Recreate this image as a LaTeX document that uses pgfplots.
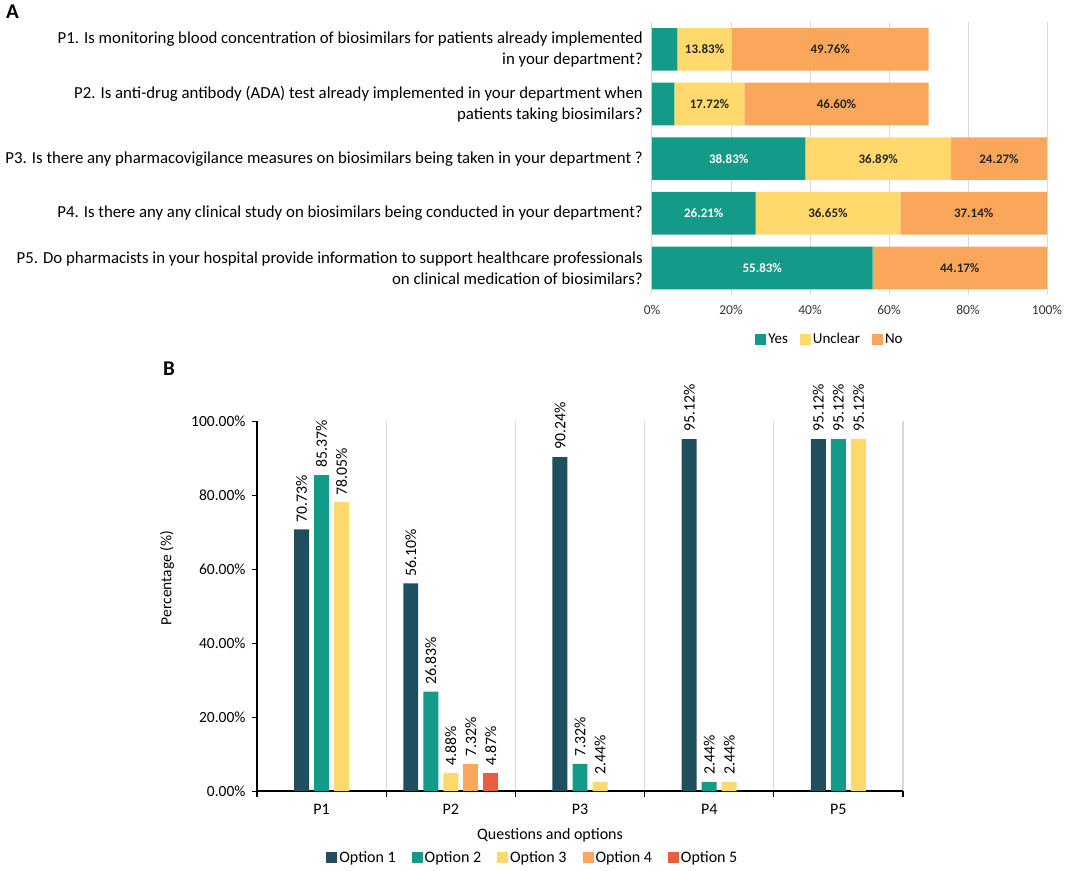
\documentclass[border=0pt]{standalone}
\usepackage{fontspec}
\setmainfont{Carlito}
\usepackage{pgfplots}
\pgfplotsset{compat=1.18}
\pgfplotsset{/pgf/number format/assume math mode=true}

\definecolor{cYes}{HTML}{149A89}
\definecolor{cUnc}{HTML}{FFD96B}
\definecolor{cNo}{HTML}{FBA75B}
\definecolor{cOpt1}{HTML}{1F4E5E}
\definecolor{cOpt5}{HTML}{EB5B3D}
\definecolor{cGrid}{HTML}{D9D9D9}

\pgfplotsset{
  panelA/.style={
    at={(652bp,-295.3bp)}, anchor=south west,
    width=395bp, height=273.3bp, scale only axis,
    xmin=0, xmax=100, ymin=0.5, ymax=5.5,
  },
}

\begin{document}
\begin{tikzpicture}
\useasboundingbox (0bp,0bp) rectangle (1065bp,-871bp);

\node[anchor=north west, inner sep=0pt, font=\fontsize{21bp}{24bp}\selectfont\bfseries] at (6bp,-5bp) {A};
\node[anchor=north west, inner sep=0pt, font=\fontsize{21bp}{24bp}\selectfont\bfseries] at (163bp,-362bp) {B};

% ---- panel A: stacked horizontal bars
\begin{axis}[
  panelA,
  xbar stacked, bar width=0.78,
  xtick={0,20,...,100},
  xticklabel={\pgfmathprintnumber{\tick}\%},
  xticklabel style={font=\fontsize{13.5bp}{16bp}\selectfont, text=black!80, yshift=-6bp},
  ytick={1,...,5},
  yticklabels={
    {P5. Do pharmacists in your hospital provide information to support healthcare professionals\\on clinical medication of biosimilars?},
    {P4. Is there any any clinical study on biosimilars being conducted in your department?},
    {P3. Is there any pharmacovigilance measures on biosimilars being taken in your department ?},
    {P2. Is anti-drug antibody (ADA) test already implemented in your department when\\patients taking biosimilars?},
    {P1. Is monitoring blood concentration of biosimilars for patients already implemented\\in your department?}},
  yticklabel style={font=\fontsize{16.8bp}{21bp}\selectfont, align=right, anchor=east, inner xsep=0pt, xshift=-9bp},
  major tick length=0pt,
  axis line style={draw=none},
  xmajorgrids, grid style={draw=cGrid, line width=1bp},
  legend columns=3,
  legend style={at={(0.4506,-0.160)}, anchor=center, draw=none,
    font=\fontsize{15bp}{18bp}\selectfont,
    /tikz/every even column/.append style={column sep=10bp}},
  legend image code/.code={\fill[#1] (0bp,-5.5bp) rectangle (11bp,5.5bp);},
]
\addplot[fill=cYes, draw=none] coordinates {
  (6.41,5) (5.68,4) (38.83,3) (26.21,2) (55.83,1)};
\addlegendentry{Yes}
\addplot[fill=cUnc, draw=none] coordinates {
  (13.83,5) (17.72,4) (36.89,3) (36.65,2) (0,1)};
\addlegendentry{Unclear}
\addplot[fill=cNo, draw=none] coordinates {
  (49.76,5) (46.60,4) (24.27,3) (37.14,2) (44.17,1)};
\addlegendentry{No}
\end{axis}

% segment labels of panel A, at the middle of each segment
\begin{axis}[
  panelA, hide axis,
  point meta=explicit symbolic,
  nodes near coords,
  every node near coord/.append style={anchor=center, inner sep=0pt,
    font=\fontsize{13bp}{15bp}\selectfont\bfseries},
]
\addplot[only marks, mark=none, every node near coord/.append style={text=white}] coordinates {
  (19.415,3) [38.83\%] (13.105,2) [26.21\%] (27.915,1) [55.83\%]};
\addplot[only marks, mark=none, every node near coord/.append style={text=black!85}] coordinates {
  (13.325,5) [13.83\%] (14.54,4) [17.72\%] (57.275,3) [36.89\%] (44.535,2) [36.65\%]
  (45.12,5) [49.76\%] (46.70,4) [46.60\%] (87.855,3) [24.27\%] (81.43,2) [37.14\%] (77.915,1) [44.17\%]};
\end{axis}

% ---- panel B: grouped bars, each group centred on its question
\begin{axis}[
  at={(257bp,-791bp)}, anchor=south west,
  width=646bp, height=370bp, scale only axis,
  ybar, bar width=0.116, bar shift=0pt,
  xmin=-0.5, xmax=4.5, ymin=0, ymax=100,
  clip=false,
  axis x line*=bottom, axis y line*=left,
  axis line style={line width=1.2bp, black},
  xtick={0,...,4},
  xticklabels={P1,P2,P3,P4,P5},
  minor xtick={-0.5,0.5,1.5,2.5,3.5,4.5},
  xminorgrids, minor grid style={draw=cGrid, line width=1.3bp},
  major x tick style={draw=none},
  minor x tick style={line width=1.2bp, black},
  minor tick length=6bp,
  tick align=outside,
  xticklabel style={font=\fontsize{16bp}{19bp}\selectfont, yshift=-5bp},
  ytick={0,20,...,100},
  major y tick style={line width=1bp, black},
  major tick length=5bp,
  yticklabel={\pgfmathprintnumber[fixed,fixed zerofill,precision=2]{\tick}\%},
  yticklabel style={font=\fontsize{15.5bp}{18bp}\selectfont, xshift=-3bp},
  xlabel={Questions and options},
  xlabel style={at={(axis description cs:0.4536,-0.119)}, anchor=center, font=\fontsize{16bp}{19bp}\selectfont},
  ylabel={Percentage (\%)},
  ylabel style={at={(axis description cs:-0.1393,0.5757)}, anchor=center, font=\fontsize{15.5bp}{18bp}\selectfont},
  nodes near coords={\pgfmathprintnumber[fixed,fixed zerofill,precision=2]{\pgfplotspointmeta}\%},
  every node near coord/.append style={rotate=90, anchor=west, inner sep=0pt, xshift=7bp,
    font=\fontsize{15.8bp}{18bp}\selectfont, text=black},
  legend columns=5,
  legend style={at={(0.427,-0.181)}, anchor=center, draw=none,
    font=\fontsize{16bp}{19bp}\selectfont,
    /tikz/every even column/.append style={column sep=14bp}},
  legend image code/.code={\fill[#1] (0bp,-5.5bp) rectangle (11bp,5.5bp);},
]
\addplot[fill=cOpt1, draw=none] coordinates {
  (-0.155,70.73) (0.69,56.10) (1.845,90.24) (2.845,95.12) (3.845,95.12)};
\addlegendentry{Option 1}
\addplot[fill=cYes, draw=none] coordinates {
  (0,85.37) (0.845,26.83) (2,7.32) (3,2.44) (4,95.12)};
\addlegendentry{Option 2}
\addplot[fill=cUnc, draw=none] coordinates {
  (0.155,78.05) (1,4.88) (2.155,2.44) (3.155,2.44) (4.155,95.12)};
\addlegendentry{Option 3}
\addplot[fill=cNo, draw=none] coordinates {
  (1.155,7.32)};
\addlegendentry{Option 4}
\addplot[fill=cOpt5, draw=none] coordinates {
  (1.31,4.87)};
\addlegendentry{Option 5}
\end{axis}
\end{tikzpicture}
\end{document}
